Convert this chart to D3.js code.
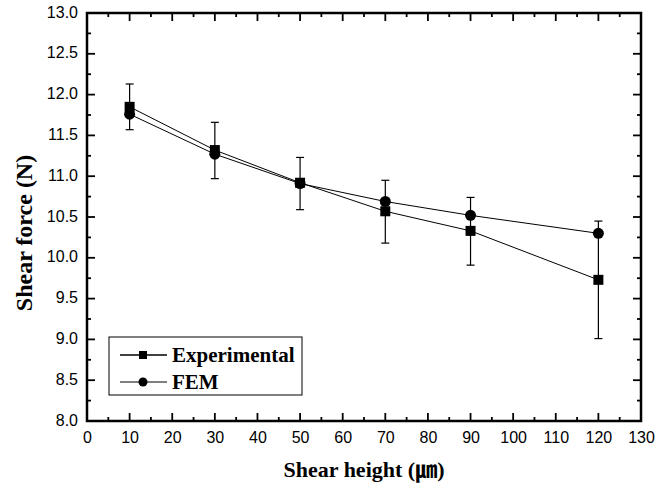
<!DOCTYPE html>
<html>
<head>
<meta charset="utf-8">
<script src="https://cdn.jsdelivr.net/npm/d3@7"></script>
<style>
  body { margin: 0; background: #fff; }
  svg { display: block; }
</style>
</head>
<body>
<svg id="chart" width="667" height="484"></svg>
<script>
const heights = [10, 30, 50, 70, 90, 120];
const experimental = [11.85, 11.32, 10.92, 10.57, 10.33, 9.73];
const expErrLow = [11.57, 10.97, 10.59, 10.18, 9.91, 9.01];
const expErrHigh = [12.13, 11.66, 11.23, 10.95, 10.74, 10.45];
const fem = [11.76, 11.27, 10.91, 10.69, 10.52, 10.30];
const xTicks = d3.range(0, 131, 10);
const yTicks = d3.range(8, 13.01, 0.5);

const svg = d3.select('#chart');
const margin = { top: 13, right: 26, bottom: 63, left: 87 };
const width = 667, height = 484;

const x = d3.scaleLinear().domain([0, 130]).range([margin.left, width - margin.right]);
const y = d3.scaleLinear().domain([8, 13]).range([height - margin.bottom, margin.top]);

// ticks on all four sides, pointing inward
const tickG = svg.append('g').attr('stroke', '#000').attr('stroke-width', 1.8);
const xMinor = d3.range(5, 130, 10);
const yMinor = d3.range(8.25, 13, 0.5);
const major = 8, minor = 4;
xTicks.forEach(v => {
  tickG.append('line').attr('x1', x(v)).attr('x2', x(v)).attr('y1', y(8)).attr('y2', y(8) - major);
  tickG.append('line').attr('x1', x(v)).attr('x2', x(v)).attr('y1', y(13)).attr('y2', y(13) + major);
});
xMinor.forEach(v => {
  tickG.append('line').attr('x1', x(v)).attr('x2', x(v)).attr('y1', y(8)).attr('y2', y(8) - minor);
  tickG.append('line').attr('x1', x(v)).attr('x2', x(v)).attr('y1', y(13)).attr('y2', y(13) + minor);
});
yTicks.forEach(v => {
  tickG.append('line').attr('x1', x(0)).attr('x2', x(0) + major).attr('y1', y(v)).attr('y2', y(v));
  tickG.append('line').attr('x1', x(130)).attr('x2', x(130) - major).attr('y1', y(v)).attr('y2', y(v));
});
yMinor.forEach(v => {
  tickG.append('line').attr('x1', x(0)).attr('x2', x(0) + minor).attr('y1', y(v)).attr('y2', y(v));
  tickG.append('line').attr('x1', x(130)).attr('x2', x(130) - minor).attr('y1', y(v)).attr('y2', y(v));
});

svg.append('rect')
  .attr('x', x(0)).attr('y', y(13))
  .attr('width', x(130) - x(0)).attr('height', y(8) - y(13))
  .attr('fill', 'none').attr('stroke', '#000').attr('stroke-width', 2.5);

// tick labels
const tickFont = 'Liberation Sans, Arial, sans-serif';
const xAxis = d3.axisBottom(x).tickValues(xTicks).tickSize(0).tickPadding(11);
svg.append('g').attr('transform', `translate(0,${y(8)})`).call(xAxis)
  .call(g => g.select('.domain').remove())
  .selectAll('text').attr('font-family', tickFont).attr('font-size', 16).attr('fill', '#000');

const yAxis = d3.axisLeft(y).tickValues(yTicks).tickSize(0).tickPadding(9).tickFormat(d3.format('.1f'));
svg.append('g').attr('transform', `translate(${x(0)},0)`).call(yAxis)
  .call(g => g.select('.domain').remove())
  .selectAll('text').attr('font-family', tickFont).attr('font-size', 16).attr('fill', '#000')
  .attr('dy', '0.25em');

// axis titles
svg.append('text')
  .attr('x', (x(0) + x(130)) / 2).attr('y', 477)
  .attr('text-anchor', 'middle')
  .attr('font-family', 'Liberation Serif, Times New Roman, Noto Sans CJK KR, serif')
  .attr('font-weight', 'bold').attr('font-size', 22)
  .text('Shear height (㎛)');

svg.append('text')
  .attr('transform', 'translate(32,233) rotate(-90)')
  .attr('text-anchor', 'middle')
  .attr('font-family', 'Liberation Serif, Times New Roman, serif')
  .attr('font-weight', 'bold').attr('font-size', 24)
  .text('Shear force (N)');

// lines
const line = d3.line().x(d => x(d[0])).y(d => y(d[1]));
svg.append('path').datum(heights.map((h, i) => [h, experimental[i]]))
  .attr('d', line).attr('fill', 'none').attr('stroke', '#000').attr('stroke-width', 1);
svg.append('path').datum(heights.map((h, i) => [h, fem[i]]))
  .attr('d', line).attr('fill', 'none').attr('stroke', '#000').attr('stroke-width', 1);

// error bars
const errG = svg.append('g').attr('stroke', '#000').attr('stroke-width', 1.2);
heights.forEach((h, i) => {
  errG.append('line').attr('x1', x(h)).attr('x2', x(h)).attr('y1', y(expErrLow[i])).attr('y2', y(expErrHigh[i]));
  [expErrLow[i], expErrHigh[i]].forEach(v => {
    errG.append('line').attr('x1', x(h) - 4).attr('x2', x(h) + 4).attr('y1', y(v)).attr('y2', y(v));
  });
});

// markers
svg.append('g').selectAll('rect').data(heights).join('rect')
  .attr('x', (d) => x(d) - 5).attr('y', (d, i) => y(experimental[i]) - 5)
  .attr('width', 10).attr('height', 10).attr('fill', '#000');
svg.append('g').selectAll('circle').data(heights).join('circle')
  .attr('cx', d => x(d)).attr('cy', (d, i) => y(fem[i])).attr('r', 5.5).attr('fill', '#000');

// legend
const lg = svg.append('g');
lg.append('rect').attr('x', 109).attr('y', 337).attr('width', 193).attr('height', 58)
  .attr('fill', '#fff').attr('stroke', '#000').attr('stroke-width', 1);
const legendItems = [
  { label: 'Experimental', shape: 'square', yy: 355 },
  { label: 'FEM', shape: 'circle', yy: 382 }
];
legendItems.forEach(it => {
  lg.append('line').attr('x1', 120).attr('x2', 167).attr('y1', it.yy).attr('y2', it.yy)
    .attr('stroke', '#000').attr('stroke-width', it.shape === 'square' ? 1.5 : 1);
  if (it.shape === 'square') {
    lg.append('rect').attr('x', 139).attr('y', it.yy - 4).attr('width', 8).attr('height', 8).attr('fill', '#000');
  } else {
    lg.append('circle').attr('cx', 143).attr('cy', it.yy).attr('r', 4.5).attr('fill', '#000');
  }
  lg.append('text').attr('x', 172).attr('y', it.yy + 7)
    .attr('font-family', 'Liberation Serif, Times New Roman, serif')
    .attr('font-weight', 'bold').attr('font-size', 21)
    .text(it.label);
});
</script>
</body>
</html>
